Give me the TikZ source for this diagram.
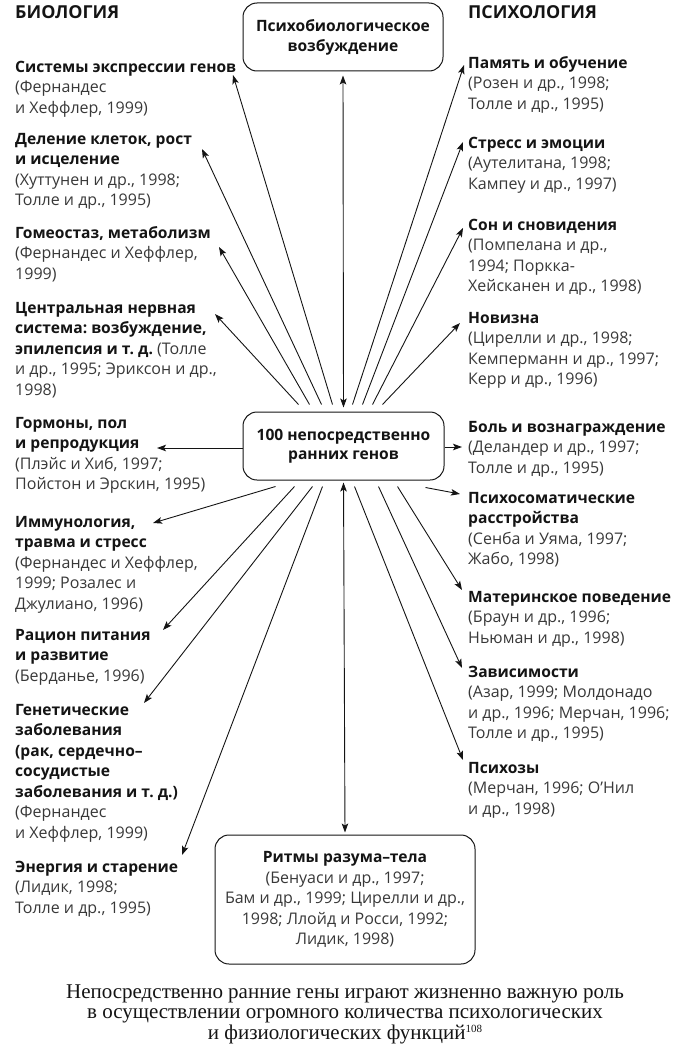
\documentclass[tikz,border=0pt]{standalone}
\usepackage{fontspec}
\setmainfont{Open Sans}[BoldFeatures={Scale=0.975}]
\newfontfamily\capfont{Liberation Serif}
\usetikzlibrary{arrows.meta}
\definecolor{geneink}{gray}{0.08}
\definecolor{srcink}{gray}{0.22}
\newcommand{\srcref}[1]{{\color{srcink}#1}}
\newcommand{\ttl}[1]{\strut\textbf{#1}}
\frenchspacing

\begin{document}
\begin{tikzpicture}[x=1pt,y=-1pt,
  item/.style={anchor=north west,yshift=14.35pt,align=left,inner sep=0pt,text=geneink,font=\fontsize{16}{20.5}\selectfont},
  head/.style={anchor=base west,inner sep=0pt,text=geneink,font=\bfseries\fontsize{18.3}{20}\selectfont},
  box/.style={draw=geneink,line width=1pt,rounded corners=14pt,align=center,text=geneink,inner sep=0pt,font=\fontsize{16}{20.5}\selectfont},
  link/.style={draw=geneink,line width=0.9pt,-{Stealth[length=9pt,width=6.5pt,inset=2pt]}},
  dlink/.style={draw=geneink,line width=0.9pt,{Stealth[length=9pt,width=6.5pt,inset=2pt]}-{Stealth[length=9pt,width=6.5pt,inset=2pt]}}]
  \useasboundingbox (0,0) rectangle (695,1049);

  \node[head] (bio) at (15,19) {БИОЛОГИЯ};
  \node[head] (psy) at (468,19) {ПСИХОЛОГИЯ};

  \node[box,font=\bfseries\fontsize{16}{20}\selectfont,minimum width=200pt,minimum height=68pt] (arousal) at (343,37) {Психобиологическое\\возбуждение};
  \node[box,font=\bfseries\fontsize{16}{19.5}\selectfont,minimum width=201pt,minimum height=68pt] (genes) at (343.5,446) {100 непосредственно\\ранних генов};
  \node[box,minimum width=260pt,minimum height=129pt] (rhythm) at (345,899.5) {\textbf{Ритмы разума–тела}\\\srcref{(Бенуаси и др., 1997;}\\\srcref{Бам и др., 1999; Цирелли и др.,}\\\srcref{1998; Ллойд и Росси, 1992;}\\\srcref{Лидик, 1998)}};

  \node[item] (sys) at (15,72) {\ttl{Системы экспрессии генов}\\\srcref{(Фернандес}\\\srcref{и Хеффлер, 1999)}};
  \node[item] (cell) at (15,144) {\ttl{Деление клеток, рост}\\\textbf{и исцеление}\\\srcref{(Хуттунен и др., 1998;}\\\srcref{Толле и др., 1995)}};
  \node[item] (homeo) at (15,238) {\ttl{Гомеостаз, метаболизм}\\\srcref{(Фернандес и Хеффлер,}\\\srcref{1999)}};
  \node[item] (cns) at (15,313) {\ttl{Центральная нервная}\\\textbf{система: возбуждение,}\\\textbf{эпилепсия и т. д.} \srcref{(Толле}\\\srcref{и др., 1995; Эриксон и др.,}\\\srcref{1998)}};
  \node[item] (horm) at (15,428) {\ttl{Гормоны, пол}\\\textbf{и репродукция}\\\srcref{(Плэйс и Хиб, 1997;}\\\srcref{Пойстон и Эрскин, 1995)}};
  \node[item] (immu) at (15,527) {\ttl{Иммунология,}\\\textbf{травма и стресс}\\\srcref{(Фернандес и Хеффлер,}\\\srcref{1999; Розалес и}\\\srcref{Джулиано, 1996)}};
  \node[item] (diet) at (15,640) {\ttl{Рацион питания}\\\textbf{и развитие}\\\srcref{(Берданье, 1996)}};
  \node[item] (genet) at (15,715) {\ttl{Генетические}\\\textbf{заболевания}\\\textbf{(рак, сердечно–}\\\textbf{сосудистые}\\\textbf{заболевания и т. д.)}\\\srcref{(Фернандес}\\\srcref{и Хеффлер, 1999)}};
  \node[item] (energy) at (15,872) {\ttl{Энергия и старение}\\\srcref{(Лидик, 1998;}\\\srcref{Толле и др., 1995)}};

  \node[item] (mem) at (468,68) {\ttl{Память и обучение}\\\srcref{(Розен и др., 1998;}\\\srcref{Толле и др., 1995)}};
  \node[item] (stress) at (468,148) {\ttl{Стресс и эмоции}\\\srcref{(Аутелитана, 1998;}\\\srcref{Кампеу и др., 1997)}};
  \node[item] (sleep) at (468,230) {\ttl{Сон и сновидения}\\\srcref{(Помпелана и др.,}\\\srcref{1994; Поркка-}\\\srcref{Хейсканен и др., 1998)}};
  \node[item] (novel) at (468,323) {\ttl{Новизна}\\\srcref{(Цирелли и др., 1998;}\\\srcref{Кемперманн и др., 1997;}\\\srcref{Керр и др., 1996)}};
  \node[item] (pain) at (468,432) {\ttl{Боль и вознаграждение}\\\srcref{(Деландер и др., 1997;}\\\srcref{Толле и др., 1995)}};
  \node[item] (psysom) at (468,503) {\ttl{Психосоматические}\\\textbf{расстройства}\\\srcref{(Сенба и Уяма, 1997;}\\\srcref{Жабо, 1998)}};
  \node[item] (mother) at (468,602) {\ttl{Материнское поведение}\\\srcref{(Браун и др., 1996;}\\\srcref{Ньюман и др., 1998)}};
  \node[item] (addict) at (468,677) {\ttl{Зависимости}\\\srcref{(Азар, 1999; Молдонадо}\\\srcref{и др., 1996; Мерчан, 1996;}\\\srcref{Толле и др., 1995)}};
  \node[item] (psycho) at (468,773) {\ttl{Психозы}\\\srcref{(Мерчан, 1996; О’Нил}\\\srcref{и др., 1998)}};

  \node[anchor=base,align=center,inner sep=0pt,text=geneink,font=\capfont\fontsize{21}{20.5}\selectfont] (caption) at (345,1039) {Непосредственно ранние гены играют жизненно важную роль\\в осуществлении огромного количества психологических\\и физиологических функций{\fontsize{11}{11}\selectfont\raisebox{7pt}{108}}};

  \coordinate (sys-tip) at (233,75);
  \coordinate (cell-tip) at (202,149);
  \coordinate (homeo-tip) at (219,247);
  \coordinate (cns-tip) at (215,314);
  \coordinate (horm-tip) at (157,448);
  \coordinate (immu-tip) at (153,523);
  \coordinate (diet-tip) at (163,630);
  \coordinate (genet-tip) at (144,703);
  \coordinate (energy-tip) at (182,855);
  \coordinate (mem-tip) at (464,65);
  \coordinate (stress-tip) at (463,142);
  \coordinate (sleep-tip) at (463,228);
  \coordinate (novel-tip) at (460,323);
  \coordinate (pain-tip) at (462,447);
  \coordinate (psysom-tip) at (460,494);
  \coordinate (mother-tip) at (462,590);
  \coordinate (addict-tip) at (462,668);
  \coordinate (psycho-tip) at (463,760);

  \draw[dlink,shorten <=4pt,shorten >=4pt] (genes.north) -- (arousal.south);
  \draw[dlink,shorten <=2pt,shorten >=2pt] (genes.south) -- (rhythm.north);

  \draw[link] ([xshift=-11pt,yshift=7pt]genes.north) -- (sys-tip);
  \draw[link] ([xshift=-22pt,yshift=7pt]genes.north) -- (cell-tip);
  \draw[link] ([xshift=-34pt,yshift=7pt]genes.north) -- (homeo-tip);
  \draw[link] ([xshift=-45pt,yshift=7pt]genes.north) -- (cns-tip);
  \draw[link] ([yshift=-2pt]genes.west) -- (horm-tip);
  \draw[link] ([xshift=-68pt,yshift=-6pt]genes.south) -- (immu-tip);
  \draw[link] ([xshift=-49pt,yshift=-6pt]genes.south) -- (diet-tip);
  \draw[link] ([xshift=-31pt,yshift=-6pt]genes.south) -- (genet-tip);
  \draw[link] ([xshift=-21pt,yshift=-6pt]genes.south) -- (energy-tip);

  \draw[link] ([xshift=9pt,yshift=7pt]genes.north) -- (mem-tip);
  \draw[link] ([xshift=19pt,yshift=7pt]genes.north) -- (stress-tip);
  \draw[link] ([xshift=29pt,yshift=7pt]genes.north) -- (sleep-tip);
  \draw[link] ([xshift=39pt,yshift=7pt]genes.north) -- (novel-tip);
  \draw[link] ([yshift=-1pt]genes.east) -- (pain-tip);
  \draw[link] ([xshift=82pt,yshift=-7pt]genes.south) -- (psysom-tip);
  \draw[link] ([xshift=54pt,yshift=-6pt]genes.south) -- (mother-tip);
  \draw[link] ([xshift=35pt,yshift=-6pt]genes.south) -- (addict-tip);
  \draw[link] ([xshift=11pt,yshift=-6pt]genes.south) -- (psycho-tip);
\end{tikzpicture}
\end{document}
